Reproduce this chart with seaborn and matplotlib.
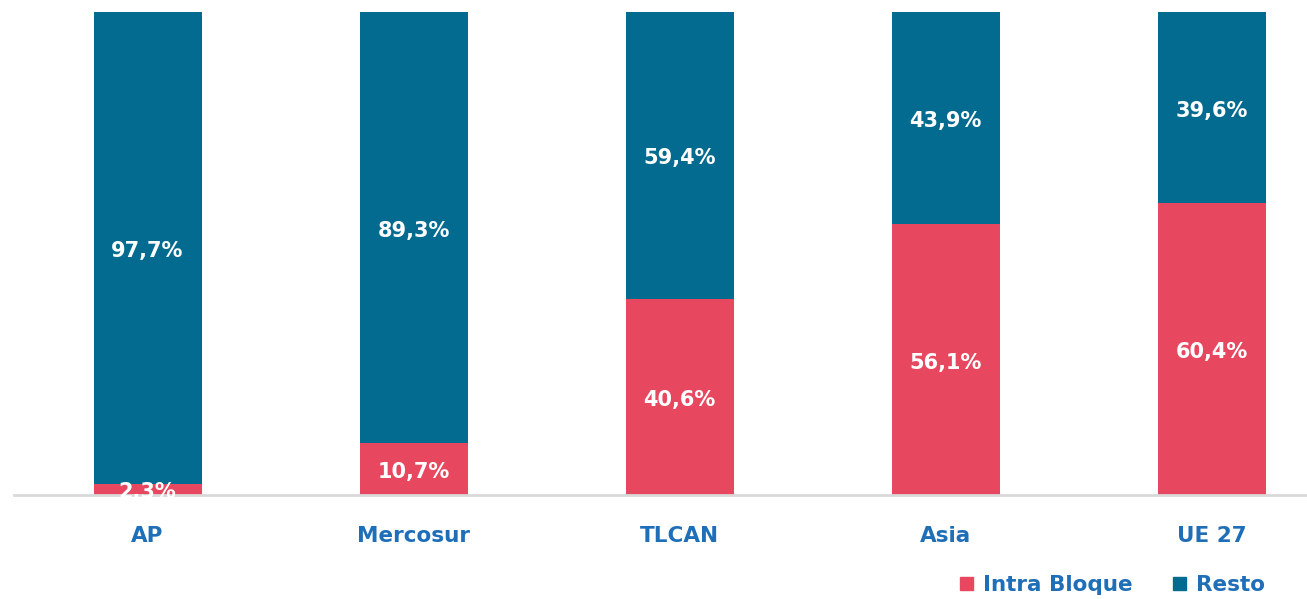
import matplotlib
matplotlib.use("Agg")
import matplotlib.pyplot as plt
import matplotlib.transforms as mtransforms
import seaborn as sns
import pandas as pd
from matplotlib.patches import Patch

categories = ["AP", "Mercosur", "TLCAN", "Asia", "UE 27"]
intra_bloque = [2.3, 10.7, 40.6, 56.1, 60.4]
resto = [97.7, 89.3, 59.4, 43.9, 39.6]

RED = "#E8485F"
TEAL = "#036B8F"
BLUE_TXT = "#1F6FB8"

df = pd.DataFrame({"Bloque": categories, "Intra": intra_bloque, "Resto": resto})
df["Total"] = df["Intra"] + df["Resto"]

sns.set_theme(style="white")
plt.rcParams["font.family"] = ["DejaVu Sans"]

fig = plt.figure(figsize=(13.07, 5.99), dpi=100)
ax = fig.add_axes([14 / 1307, 1 - 495 / 599, 1 - 14 / 1307, (495 - 12) / 599])

sns.barplot(data=df, x="Bloque", y="Total", order=categories, color=TEAL,
            width=0.406, saturation=1, ax=ax, linewidth=0)
sns.barplot(data=df, x="Bloque", y="Intra", order=categories, color=RED,
            width=0.406, saturation=1, ax=ax, linewidth=0)

ax.set_xlim(-0.502, 4.359)
ax.set_ylim(0, 100)

# small downward nudge, like the original labels
shift = mtransforms.offset_copy(ax.transData, fig=fig, x=0, y=-3, units="dots")
for i, (a, r) in enumerate(zip(intra_bloque, resto)):
    ax.text(i, a / 2, f"{a:.1f}%".replace(".", ","), ha="center", va="center",
            color="white", fontsize=15, fontweight="bold", transform=shift)
    ax.text(i, a + r / 2, f"{r:.1f}%".replace(".", ","), ha="center", va="center",
            color="white", fontsize=15, fontweight="bold", transform=shift)

for s in ["top", "right", "left"]:
    ax.spines[s].set_visible(False)
ax.spines["bottom"].set_color("#D9D9D9")
ax.spines["bottom"].set_linewidth(2)
ax.set_yticks([])
ax.set_xlabel("")
ax.set_ylabel("")
ax.tick_params(axis="x", length=0, pad=22)
for lbl in ax.get_xticklabels():
    lbl.set_color(BLUE_TXT)
    lbl.set_fontweight("bold")
    lbl.set_fontsize(15.5)

handles = [Patch(color=RED, label="Intra Bloque"), Patch(color=TEAL, label="Resto")]
leg = fig.legend(handles=handles, loc="center right", bbox_to_anchor=(0.983, 1 - 585 / 599),
                 ncol=2, frameon=False, handlelength=0.6, handleheight=0.6,
                 handletextpad=0.5, columnspacing=1.85, prop={"weight": "bold", "size": 15.5})
for t in leg.get_texts():
    t.set_color(BLUE_TXT)

fig.savefig("out.png", dpi=100)
